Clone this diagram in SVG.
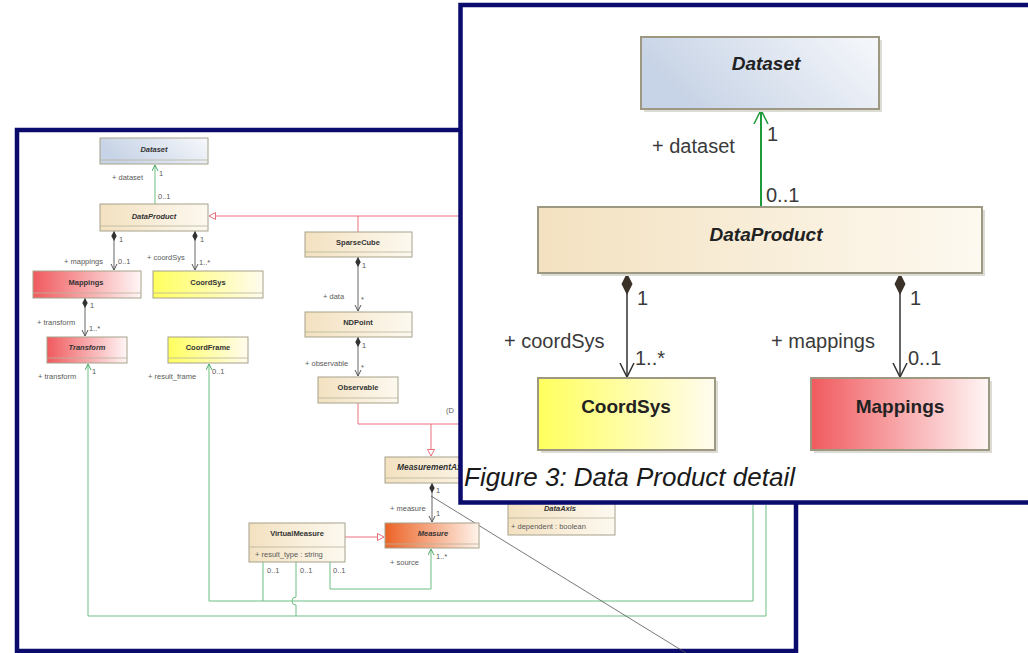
<svg xmlns="http://www.w3.org/2000/svg" width="1028" height="653" viewBox="0 0 1028 653">
<defs>
<linearGradient id="gBlue" x1="0" y1="0.3" x2="1" y2="0"><stop offset="0" stop-color="#c7d3e6"/><stop offset="1" stop-color="#f6f8fb"/></linearGradient>
<linearGradient id="gBeige" x1="0" y1="0" x2="1" y2="0"><stop offset="0" stop-color="#f3e1c0"/><stop offset="1" stop-color="#fdf9f0"/></linearGradient>
<linearGradient id="gYellow" x1="0" y1="0" x2="1" y2="0"><stop offset="0" stop-color="#ffff5e"/><stop offset="1" stop-color="#fffbee"/></linearGradient>
<linearGradient id="gRed" x1="0" y1="0" x2="1" y2="0"><stop offset="0" stop-color="#f05a5e"/><stop offset="1" stop-color="#fff6f6"/></linearGradient>
<linearGradient id="gOrange" x1="0" y1="0" x2="1" y2="0"><stop offset="0" stop-color="#ec6326"/><stop offset="1" stop-color="#fff3ea"/></linearGradient>
<marker id="arrS" markerUnits="userSpaceOnUse" markerWidth="8" markerHeight="8" refX="6" refY="3.5" orient="auto"><path d="M0,0.5 L6,3.5 L0,6.5" fill="none" stroke="#555" stroke-width="1"/></marker>
<marker id="arrSG" markerUnits="userSpaceOnUse" markerWidth="8" markerHeight="8" refX="6" refY="3.5" orient="auto"><path d="M0,0.5 L6,3.5 L0,6.5" fill="none" stroke="#4aa866" stroke-width="1"/></marker>
<marker id="diaS" markerUnits="userSpaceOnUse" markerWidth="12" markerHeight="7" refX="0" refY="3" orient="auto"><path d="M0,3 L5,0.3 L10,3 L5,5.7 Z" fill="#333"/></marker>
<marker id="triS" markerUnits="userSpaceOnUse" markerWidth="8" markerHeight="9" refX="7" refY="4" orient="auto"><path d="M0.5,0.5 L7,4 L0.5,7.5 Z" fill="#fff" stroke="#e8707c" stroke-width="1"/></marker>
<marker id="arrL" markerUnits="userSpaceOnUse" markerWidth="16" markerHeight="18" refX="14" refY="8" orient="auto"><path d="M0,1 L14,8 L0,15" fill="none" stroke="#333" stroke-width="1.5"/></marker>
<marker id="arrLG" markerUnits="userSpaceOnUse" markerWidth="16" markerHeight="18" refX="14" refY="8" orient="auto"><path d="M0,1 L14,8 L0,15" fill="none" stroke="#1f9a3a" stroke-width="1.5"/></marker>
<marker id="diaL" markerUnits="userSpaceOnUse" markerWidth="24" markerHeight="13" refX="0" refY="6" orient="auto"><path d="M0,6 L11,0.5 L22,6 L11,11.5 Z" fill="#3a3228"/></marker>
<style>
.frame{fill:#fff;stroke:#0b0b6e;stroke-width:4.5}
.bx{stroke:#a6a28a;stroke-width:1}
.cl{stroke:#b8b49c;stroke-width:0.8}
.bxL{stroke:#9c9882;stroke-width:2}
.sh{fill:#dcdcd4}
.t{font-family:"Liberation Sans",Arial,sans-serif;font-size:7.5px;fill:#5a5a5a}
.n{font-family:"Liberation Sans",Arial,sans-serif;font-size:7.5px;font-weight:bold;fill:#333;text-anchor:middle}
.i{font-style:italic}
.comp{fill:none;stroke:#666;stroke-width:1}
.grn{fill:none;stroke:#6cbf84;stroke-width:1}
.red{fill:none;stroke:#e8707c;stroke-width:1}
.lt{font-family:"Liberation Sans",Arial,sans-serif;font-size:20px;fill:#3a3a3a}
.ln{font-family:"Liberation Sans",Arial,sans-serif;font-size:19px;font-weight:bold;fill:#222;text-anchor:middle}
</style>
</defs>

<!-- Left (overview) frame -->
<rect id="left-frame" class="frame" x="17" y="130" width="779" height="521"/>

<g id="left-connectors">
<path class="grn" d="M155,204 V165" marker-end="url(#arrSG)"/>
<path class="red" d="M460,216 H209" marker-end="url(#triS)"/>
<path class="red" d="M358,232 V216"/>
<path class="comp" d="M114,231 V270" marker-start="url(#diaS)" marker-end="url(#arrS)"/>
<path class="comp" d="M195,231 V270" marker-start="url(#diaS)" marker-end="url(#arrS)"/>
<path class="comp" d="M85,298 V336" marker-start="url(#diaS)" marker-end="url(#arrS)"/>
<path class="comp" d="M358,257 V311" marker-start="url(#diaS)" marker-end="url(#arrS)"/>
<path class="comp" d="M358,337 V376" marker-start="url(#diaS)" marker-end="url(#arrS)"/>
<path class="red" d="M358,403 V424 H460"/>
<path class="red" d="M431,424 V456" marker-end="url(#triS)"/>
<path class="comp" d="M432,483 V522" marker-start="url(#diaS)" marker-end="url(#arrS)"/>
<path class="red" d="M345,537 H384" marker-end="url(#triS)"/>
<path class="grn" d="M766,505 V616 H88 V364" marker-end="url(#arrSG)"/>
<path class="grn" d="M753,505 V601 H209 V364" marker-end="url(#arrSG)"/>
<path class="grn" d="M263,562 V601"/>
<path class="grn" d="M296,562 V597 A4,4 0 0 0 296,605 V616"/>
<path class="grn" d="M330,562 V589 H431 V549" marker-end="url(#arrSG)"/>
<line x1="431" y1="496" x2="686" y2="653" stroke="#555" stroke-width="0.8"/>
</g>

<g id="left-labels">
<text class="t" x="112" y="180">+ dataset</text>
<text class="t" x="159" y="176">1</text>
<text class="t" x="158" y="199">0..1</text>
<text class="t" x="64" y="264">+ mappings</text>
<text class="t" x="118" y="264">0..1</text>
<text class="t" x="119" y="242">1</text>
<text class="t" x="147" y="260">+ coordSys</text>
<text class="t" x="199" y="265">1..*</text>
<text class="t" x="200" y="242">1</text>
<text class="t" x="37" y="325">+ transform</text>
<text class="t" x="89" y="331">1..*</text>
<text class="t" x="90" y="308">1</text>
<text class="t" x="38" y="379">+ transform</text>
<text class="t" x="92" y="374">1</text>
<text class="t" x="148" y="379">+ result_frame</text>
<text class="t" x="212" y="374">0..1</text>
<text class="t" x="323" y="299">+ data</text>
<text class="t" x="361" y="302">*</text>
<text class="t" x="362" y="268">1</text>
<text class="t" x="305" y="366">+ observable</text>
<text class="t" x="361" y="370">*</text>
<text class="t" x="362" y="348">1</text>
<text class="t" x="446" y="413">(D</text>
<text class="t" x="390" y="511">+ measure</text>
<text class="t" x="436" y="493">1</text>
<text class="t" x="436" y="516">1</text>
<text class="t" x="390" y="565">+ source</text>
<text class="t" x="436" y="559">1..*</text>
<text class="t" x="267" y="573">0..1</text>
<text class="t" x="300" y="573">0..1</text>
<text class="t" x="333" y="573">0..1</text>
</g>

<g id="l-dataset"><rect class="bx" x="100" y="138" width="108" height="26" fill="url(#gBlue)"/><line class="cl" x1="100" y1="160" x2="208" y2="160"/><text class="n i" x="154" y="152">Dataset</text></g>
<g id="l-dataproduct"><rect class="bx" x="100" y="204" width="108" height="27" fill="url(#gBeige)"/><line class="cl" x1="100" y1="226" x2="208" y2="226"/><text class="n i" x="154" y="219">DataProduct</text></g>
<g id="l-mappings"><rect class="bx" x="33" y="271" width="108" height="27" fill="url(#gRed)"/><line class="cl" x1="33" y1="293" x2="141" y2="293"/><text class="n" x="86" y="285">Mappings</text></g>
<g id="l-coordsys"><rect class="bx" x="153" y="271" width="110" height="27" fill="url(#gYellow)"/><line class="cl" x1="153" y1="293" x2="263" y2="293"/><text class="n" x="208" y="285">CoordSys</text></g>
<g id="l-transform"><rect class="bx" x="47" y="337" width="80" height="26" fill="url(#gRed)"/><line class="cl" x1="47" y1="358" x2="127" y2="358"/><text class="n i" x="87" y="350">Transform</text></g>
<g id="l-coordframe"><rect class="bx" x="168" y="337" width="80" height="26" fill="url(#gYellow)"/><line class="cl" x1="168" y1="358" x2="248" y2="358"/><text class="n" x="208" y="350">CoordFrame</text></g>
<g id="l-sparsecube"><rect class="bx" x="305" y="232" width="107" height="25" fill="url(#gBeige)"/><line class="cl" x1="305" y1="252" x2="412" y2="252"/><text class="n" x="358" y="245">SparseCube</text></g>
<g id="l-ndpoint"><rect class="bx" x="305" y="312" width="107" height="25" fill="url(#gBeige)"/><line class="cl" x1="305" y1="332" x2="412" y2="332"/><text class="n" x="358" y="325">NDPoint</text></g>
<g id="l-observable"><rect class="bx" x="318" y="377" width="80" height="26" fill="url(#gBeige)"/><line class="cl" x1="318" y1="398" x2="398" y2="398"/><text class="n" x="358" y="390">Observable</text></g>
<g id="l-measurementaxis"><rect class="bx" x="385" y="457" width="107" height="26" fill="url(#gBeige)"/><line class="cl" x1="385" y1="478" x2="492" y2="478"/><text class="n i" x="397" y="470" style="text-anchor:start;font-size:8.4px">MeasurementAxis</text></g>
<g id="l-measure"><rect class="bx" x="385" y="523" width="94" height="25" fill="url(#gOrange)"/><line class="cl" x1="385" y1="544" x2="479" y2="544"/><text class="n i" x="433" y="536">Measure</text></g>
<g id="l-virtualmeasure"><rect class="bx" x="249" y="523" width="96" height="39" fill="url(#gBeige)"/><line class="cl" x1="249" y1="547" x2="345" y2="547"/><text class="n" x="297" y="536">VirtualMeasure</text><text class="t" x="255" y="557">+ result_type : string</text></g>
<g id="l-dataaxis"><rect class="bx" x="508" y="490" width="107" height="45" fill="url(#gBeige)"/><line class="cl" x1="508" y1="518" x2="615" y2="518"/><text class="n i" x="560" y="511">DataAxis</text><text class="t" x="511" y="529">+ dependent : boolean</text></g>

<!-- Right (Figure 3) frame -->
<rect id="right-frame" class="frame" x="460.5" y="5" width="600" height="497.5"/>

<g id="right-connectors">
<path d="M761,207 V110" fill="none" stroke="#1f9a3a" stroke-width="2" marker-end="url(#arrLG)"/>
<path d="M627,273 V377" fill="none" stroke="#333" stroke-width="1.5" marker-start="url(#diaL)" marker-end="url(#arrL)"/>
<path d="M900,273 V377" fill="none" stroke="#333" stroke-width="1.5" marker-start="url(#diaL)" marker-end="url(#arrL)"/>
</g>

<g id="right-labels">
<text class="lt" x="652" y="153">+ dataset</text>
<text class="lt" x="767" y="141">1</text>
<text class="lt" x="766" y="202">0..1</text>
<text class="lt" x="637" y="305">1</text>
<text class="lt" x="910" y="305">1</text>
<text class="lt" x="504" y="348">+ coordSys</text>
<text class="lt" x="635" y="365">1..*</text>
<text class="lt" x="771" y="348">+ mappings</text>
<text class="lt" x="908" y="365">0..1</text>
</g>

<g id="r-dataset"><rect class="sh" x="644" y="40" width="238" height="72"/><rect class="bxL" x="641" y="37" width="238" height="72" fill="url(#gBlue)"/><text class="ln i" x="766" y="70">Dataset</text></g>
<g id="r-dataproduct"><rect class="sh" x="541" y="210" width="444" height="66"/><rect class="bxL" x="538" y="207" width="444" height="66" fill="url(#gBeige)"/><text class="ln i" x="766" y="241">DataProduct</text></g>
<g id="r-coordsys"><rect class="sh" x="541" y="381" width="177" height="72"/><rect class="bxL" x="538" y="378" width="177" height="72" fill="url(#gYellow)"/><text class="ln" x="626" y="413">CoordSys</text></g>
<g id="r-mappings"><rect class="sh" x="814" y="381" width="178" height="72"/><rect class="bxL" x="811" y="378" width="178" height="72" fill="url(#gRed)"/><text class="ln" x="900" y="413">Mappings</text></g>

<text id="caption" x="464" y="486" font-family="'Liberation Sans',Arial,sans-serif" font-size="26" font-style="italic" fill="#1a1a1a">Figure 3: Data Product detail</text>
</svg>
